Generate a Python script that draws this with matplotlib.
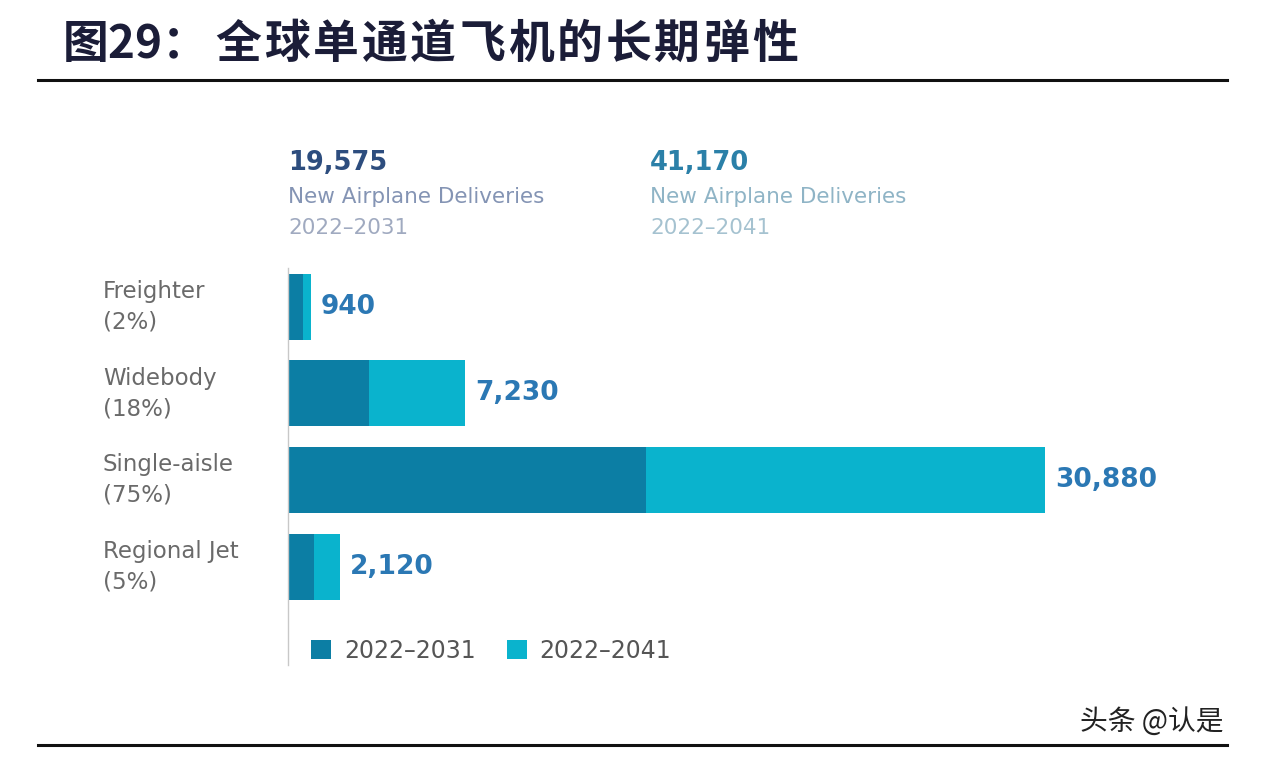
import matplotlib
matplotlib.use("Agg")
import matplotlib.pyplot as plt
import matplotlib.transforms as mtransforms
from matplotlib.patches import Patch
from matplotlib.lines import Line2D

# ---- data ----
categories = ["Freighter", "Widebody", "Single-aisle", "Regional Jet"]
shares = ["(2%)", "(18%)", "(75%)", "(5%)"]
deliveries_2031 = [600, 3300, 14600, 1075]
deliveries_2041 = [940, 7230, 30880, 2120]
value_labels = ["940", "7,230", "30,880", "2,120"]
total_2031 = "19,575"
total_2041 = "41,170"
legend_labels = ["2022\u20132031", "2022\u20132041"]
title_prefix = "图29："
title_body = "全球单通道飞机的长期弹性"
watermark = "头条 @认是"

DARK = "#0c7ea4"
LIGHT = "#0ab3cd"
VAL = "#2b78b4"

W, H = 1272, 762
fig = plt.figure(figsize=(W / 100, H / 100), dpi=100)
fig.patch.set_facecolor("white")

def fx(px):
    return px / W

def fy(py):
    return 1 - py / H

# axes
ax_left, ax_right, ax_top, ax_bottom = 288, 1200, 268, 665
ax = fig.add_axes([fx(ax_left), fy(ax_bottom), fx(ax_right - ax_left), (ax_bottom - ax_top) / H])
xmax = 30880 * (ax_right - ax_left) / (1045 - ax_left)
ax.set_xlim(0, xmax)
pitch = 86.8
ax.set_ylim(3 + (ax_bottom - 567) / pitch, -(306.5 - ax_top) / pitch)

ypos = list(range(len(categories)))
ext = [t - f for t, f in zip(deliveries_2041, deliveries_2031)]
ax.barh(ypos, deliveries_2031, height=0.76, color=DARK, label=legend_labels[0])
ax.barh(ypos, ext, left=deliveries_2031, height=0.76, color=LIGHT, label=legend_labels[1])

for y, tot, lab in zip(ypos, deliveries_2041, value_labels):
    ax.annotate(lab, (tot, y), xytext=(7, 0), textcoords="offset points",
                ha="left", va="center", fontsize=19, fontweight="bold",
                color=VAL, family="DejaVu Sans", annotation_clip=False)

for s in ["top", "right", "bottom"]:
    ax.spines[s].set_visible(False)
ax.spines["left"].set_color("#c8c8c8")
ax.spines["left"].set_linewidth(1.0)
ax.set_xticks([])
ax.set_yticks([])
ax.patch.set_alpha(0)

# category labels
bt = mtransforms.blended_transform_factory(fig.transFigure, ax.transData)
for y, c, s in zip(ypos, categories, shares):
    ax.text(fx(103), y, c + "\n" + s, transform=bt, ha="left", va="center",
            fontsize=16.5, color="#6a6a6a", family="DejaVu Sans", linespacing=1.42)

# header totals
fig.text(fx(288), fy(163), total_2031, ha="left", va="center", fontsize=18.5,
         fontweight="bold", color="#2d4d7e", family="DejaVu Sans")
fig.text(fx(288), fy(197), "New Airplane Deliveries", ha="left", va="center",
         fontsize=15.5, color="#8494b4", family="DejaVu Sans")
fig.text(fx(288), fy(228), legend_labels[0], ha="left", va="center",
         fontsize=15.5, color="#a0aac0", family="DejaVu Sans")
fig.text(fx(650), fy(163), total_2041, ha="left", va="center", fontsize=18.5,
         fontweight="bold", color="#2b80a8", family="DejaVu Sans")
fig.text(fx(650), fy(197), "New Airplane Deliveries", ha="left", va="center",
         fontsize=15.5, color="#8fb4c6", family="DejaVu Sans")
fig.text(fx(650), fy(228), legend_labels[1], ha="left", va="center",
         fontsize=15.5, color="#a5c2d0", family="DejaVu Sans")

# legend
handles = [Patch(facecolor=DARK), Patch(facecolor=LIGHT)]
leg = fig.legend(handles, legend_labels, loc="center left",
                 bbox_to_anchor=(fx(290), fy(651)), ncol=2, frameon=False,
                 prop={"family": "DejaVu Sans", "size": 17},
                 handlelength=0.85, handleheight=0.85, handletextpad=0.55,
                 columnspacing=1.3, labelcolor="#555555")

# title (letter-spaced)
TCOL = "#1b1d38"
tfam = ["Noto Sans CJK SC", "DejaVu Sans"]
fig.text(fx(63), fy(45), title_prefix, ha="left", va="center", fontsize=33,
         fontweight="bold", color=TCOL, family=tfam)
for i, ch in enumerate(title_body):
    fig.text(fx(238 + 48.8 * i), fy(45), ch, ha="center", va="center",
             fontsize=33, fontweight="bold", color=TCOL, family=tfam)

# rules
fig.add_artist(Line2D([fx(38), fx(1227)], [fy(80), fy(80)], color="#111111", lw=2.2))
fig.add_artist(Line2D([fx(38), fx(1227)], [fy(745), fy(745)], color="#111111", lw=2.2))

# watermark
fig.text(fx(1080), fy(722), watermark, ha="left", va="center", fontsize=20,
         color="#222222", family=tfam)

fig.savefig("out.png", dpi=100, facecolor="white")
